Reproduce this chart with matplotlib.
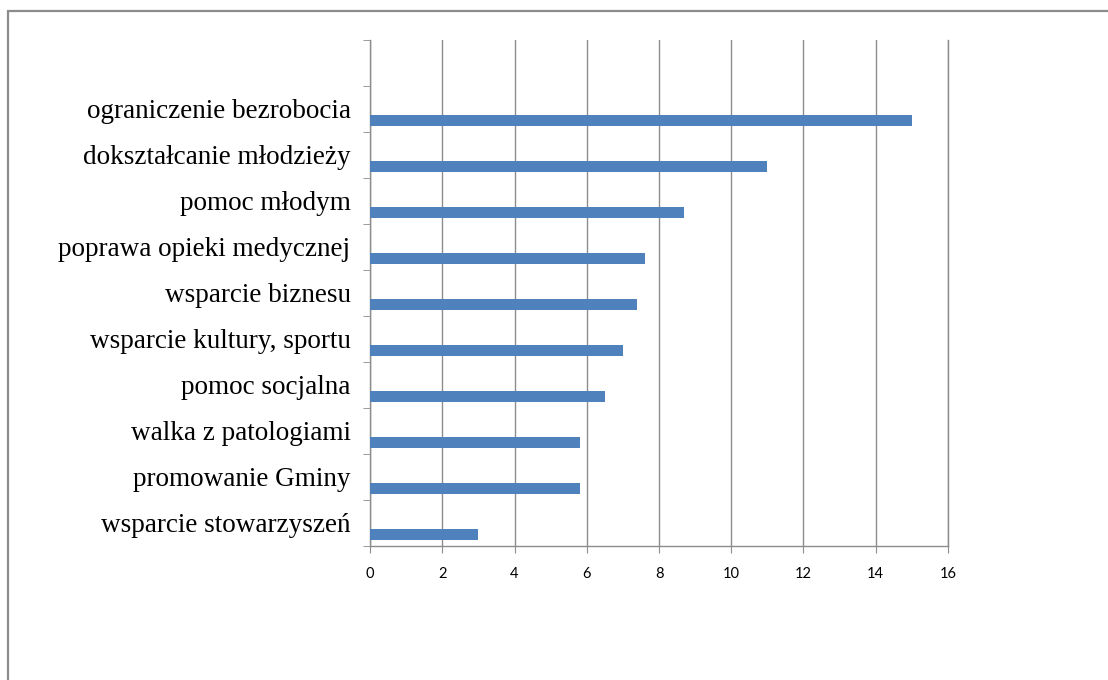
import matplotlib
matplotlib.use("Agg")
import matplotlib.pyplot as plt
from matplotlib.patches import Rectangle
import numpy as np

categories = [
    "wsparcie stowarzyszeń",
    "promowanie Gminy",
    "walka z patologiami",
    "pomoc socjalna",
    "wsparcie kultury, sportu",
    "wsparcie biznesu",
    "poprawa opieki medycznej",
    "pomoc młodym",
    "dokształcanie młodzieży",
    "ograniczenie bezrobocia",
]
values = [3.0, 5.8, 5.8, 6.5, 7.0, 7.4, 7.6, 8.7, 11.0, 15.0]
x_ticks = [0, 2, 4, 6, 8, 10, 12, 14, 16]

W, H = 1108, 680
fig = plt.figure(figsize=(W / 100, H / 100), dpi=100)
fig.patch.set_facecolor("white")

# outer frame
fig.add_artist(Rectangle((8 / W, -0.2), 1.2, (H - 11) / H + 0.2,
                         transform=fig.transFigure, fill=False,
                         edgecolor="#8c8c8c", linewidth=1.6))

ax = fig.add_axes([370 / W, 1 - 546 / H, (948 - 370) / W, (546 - 40) / H])

n_slots = len(categories) + 1
pos = np.arange(len(categories))
ax.barh(pos - 0.24, values, height=0.24, color="#4F81BD", zorder=3)

ax.set_xlim(0, 16)
ax.set_ylim(-0.5, n_slots - 0.5)

ax.set_xticks(x_ticks)
ax.set_xticklabels([str(t) for t in x_ticks], fontfamily="Lato", fontsize=10.5)
ax.tick_params(axis="x", length=5, color="#8c8c8c", direction="out", pad=10)
ax.xaxis.grid(True, color="#8c8c8c", linewidth=1.0, zorder=0)

ax.set_yticks(pos)
ax.set_yticklabels(categories, fontfamily="Liberation Serif", fontsize=19.5)
ax.tick_params(axis="y", which="major", length=0, pad=14)
ax.set_yticks(np.arange(-0.5, n_slots, 1.0), minor=True)
ax.tick_params(axis="y", which="minor", length=5, color="#8c8c8c", direction="out")

ax.spines["top"].set_visible(False)
for s in ["left", "bottom", "right"]:
    ax.spines[s].set_color("#8c8c8c")
    ax.spines[s].set_linewidth(1.0)

fig.savefig("out.png", dpi=100, facecolor="white")
